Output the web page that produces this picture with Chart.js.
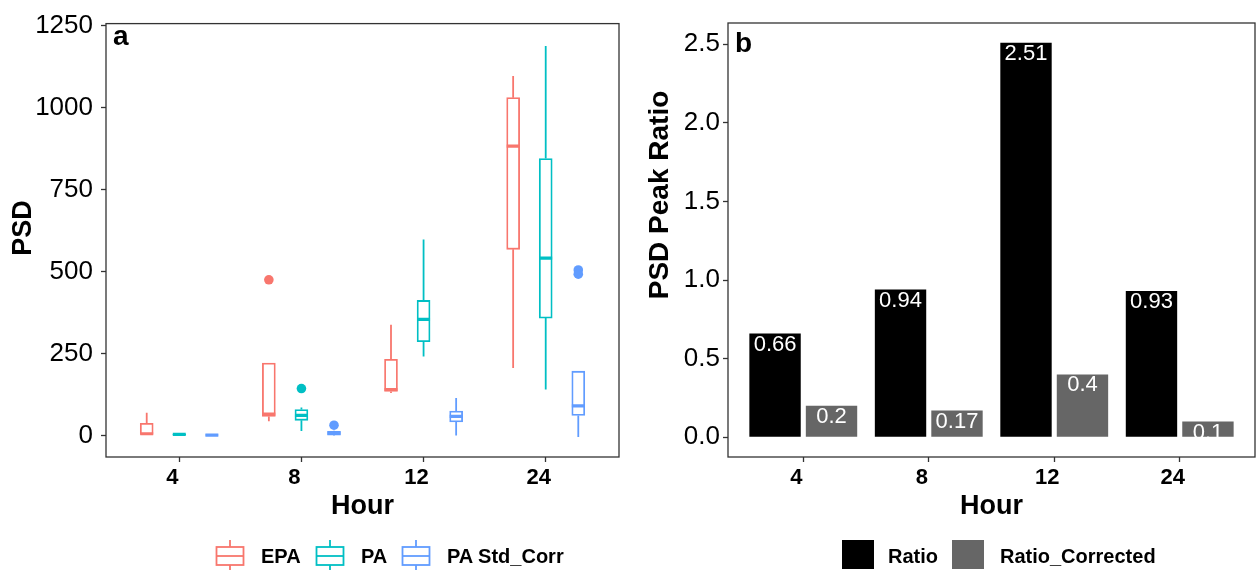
<!DOCTYPE html>
<html>
<head>
<meta charset="utf-8">
<script src="https://cdn.jsdelivr.net/npm/chart.js@4.4.1/dist/chart.umd.min.js"></script>
<style>
  body { margin: 0; background: #fff; }
  #wrap { position: relative; width: 1256px; height: 570px; overflow: hidden; background: #fff;
          font-family: "Liberation Sans", Arial, sans-serif; }
  canvas { position: absolute; top: 0; }
  .lg { position: absolute; top: 544px; font-weight: bold; font-size: 20px; line-height: 24px; color: #000; white-space: nowrap; }
  .key { position: absolute; }
</style>
</head>
<body>
<div id="wrap">
  <canvas id="psd" width="628" height="570" style="left:0"></canvas>
  <canvas id="ratio" width="628" height="570" style="left:628px"></canvas>
</div>
<script>
// ---- panel a: PSD boxplots ----
const hours = ['4', '8', '12', '24'];
const groups = ['EPA', 'PA', 'PA Std_Corr'];
const groupColors = ['#F8766D', '#00BFC4', '#619CFF'];
// [lower whisker, Q1, median, Q3, upper whisker] for each hour
const epaStats = [[1, 3, 5, 37, 69], [43, 58, 65, 221, 221], [129, 134, 140, 232, 338], [206, 568, 883, 1031, 1097]];
const paStats = [[2, 2.5, 3, 3.5, 4], [13, 46, 61, 79, 85], [241, 286, 354, 412, 598], [140, 358, 541, 845, 1189]];
const stdStats = [[0, 0.5, 1, 1.5, 2], [0, 1, 7, 12, 14], [0, 41, 58, 74, 114], [-5, 61, 90, 196, 196]];
const epaOutliers = [[], [475], [], []];
const paOutliers = [[], [143], [], []];
const stdOutliers = [[], [31], [], [505, 492]];
const psdTicks = [0, 250, 500, 750, 1000, 1250];

// ---- panel b: peak ratios ----
const ratio = [0.66, 0.94, 2.51, 0.93];
const ratioCorrected = [0.2, 0.17, 0.4, 0.1];
const ratioTicks = [0, 0.5, 1, 1.5, 2, 2.5];

Chart.defaults.font.family = '"Liberation Sans", Arial, sans-serif';
const FONT = '"Liberation Sans", Arial, sans-serif';

const dodge = [-0.8 / 3, 0, 0.8 / 3];
const halfBox = 0.053;

function boxDatasets(stats, outliers, g) {
    const color = groupColors[g];
    const boxes = [], whiskers = [], medians = [], points = [];
    stats.forEach((s, i) => {
        const x = i + 1 + dodge[g];
        boxes.push({x: x, y: [s[1], s[3]]});
        whiskers.push({x: x, y: s[0]}, {x: x, y: s[1]}, {x: x, y: null},
                      {x: x, y: s[3]}, {x: x, y: s[4]}, {x: x, y: null});
        medians.push({x: x - halfBox, y: s[2]}, {x: x + halfBox, y: s[2]}, {x: x, y: null});
        outliers[i].forEach(v => points.push({x: x, y: v}));
    });
    return [
        {type: 'bar', label: groups[g], data: boxes, backgroundColor: '#fff', borderColor: color,
         borderWidth: 1.8, borderSkipped: false, barThickness: 13, grouped: false, order: 3},
        {type: 'line', data: whiskers, borderColor: color, borderWidth: 1.8, pointRadius: 0, spanGaps: false, order: 2},
        {type: 'line', data: medians, borderColor: color, borderWidth: 3.2, pointRadius: 0, spanGaps: false, order: 1},
        {type: 'line', data: points, showLine: false, pointRadius: 4.8, pointBackgroundColor: color,
         pointBorderWidth: 0, order: 0}
    ];
}

// border, panel tag and rotated y title
const frame = {
    id: 'frame',
    afterDraw(chart, args, opts) {
        const {ctx, chartArea: a} = chart;
        ctx.save();
        ctx.strokeStyle = '#333';
        ctx.lineWidth = 1.3;
        ctx.strokeRect(a.left, a.top, a.right - a.left, a.bottom - a.top);
        ctx.fillStyle = '#000';
        ctx.font = 'bold 28px ' + FONT;
        ctx.textAlign = 'left';
        ctx.textBaseline = 'alphabetic';
        ctx.fillText(opts.tag, opts.tagX, opts.tagY);
        ctx.font = 'bold ' + opts.titleSize + 'px ' + FONT;
        ctx.translate(opts.titleX, opts.titleY);
        ctx.rotate(-Math.PI / 2);
        ctx.textAlign = 'center';
        ctx.textBaseline = 'middle';
        ctx.fillText(opts.title, 0, 0);
        ctx.restore();
    }
};

function xScale(height) {
    return {
        type: 'linear', min: 0.4, max: 4.6, offset: false,
        afterBuildTicks: s => { s.ticks = hours.map((h, i) => ({value: i + 1})); },
        ticks: {callback: (v, i) => hours[i], font: {size: 22, weight: 'bold'}, color: '#000',
                padding: 3, maxRotation: 0, autoSkip: false, labelOffset: -7},
        grid: {drawOnChartArea: false, offset: false, tickLength: 5, tickColor: '#333', tickWidth: 1.3},
        border: {display: false},
        title: {display: true, text: 'Hour', font: {size: 27, weight: 'bold'}, color: '#000',
                padding: {top: 0, bottom: 47}},
        afterFit: s => { s.height = height; }
    };
}

function yScale(min, max, ticks, width, padding, fmt) {
    return {
        min: min, max: max,
        afterBuildTicks: s => { s.ticks = ticks.map(v => ({value: v})); },
        ticks: {font: {size: 26}, color: '#000', padding: padding, callback: fmt},
        grid: {drawOnChartArea: false, tickLength: 5, tickColor: '#333', tickWidth: 1.3},
        border: {display: false},
        afterFit: s => { s.width = width; }
    };
}

new Chart(document.getElementById('psd'), {
    type: 'bar',
    data: {
        datasets: [].concat(
            boxDatasets(epaStats, epaOutliers, 0),
            boxDatasets(paStats, paOutliers, 1),
            boxDatasets(stdStats, stdOutliers, 2))
    },
    options: {
        responsive: false, animation: false, devicePixelRatio: 1,
        layout: {padding: {top: 23, right: 9, left: 0, bottom: 0}},
        plugins: {
            legend: {display: false}, tooltip: {enabled: false},
            frame: {tag: 'a', tagX: 113, tagY: 44.5, title: 'PSD', titleSize: 27, titleX: 24, titleY: 228}
        },
        scales: {
            x: xScale(113),
            y: yScale(-66, 1257, psdTicks, 106, 8, v => String(v))
        }
    },
    plugins: [frame]
});

// white value labels at the top of each bar
const barLabels = {
    id: 'barLabels',
    afterDatasetsDraw(chart) {
        const ctx = chart.ctx;
        ctx.save();
        ctx.font = '22px ' + FONT;
        ctx.fillStyle = '#fff';
        ctx.textAlign = 'center';
        ctx.textBaseline = 'top';
        chart.data.datasets.forEach((ds, di) => {
            chart.getDatasetMeta(di).data.forEach((bar, i) => {
                ctx.fillText(String(ds.data[i].y), bar.x, bar.y);
            });
        });
        ctx.restore();
    }
};

new Chart(document.getElementById('ratio'), {
    type: 'bar',
    data: {
        datasets: [
            {label: 'Ratio', data: ratio.map((v, i) => ({x: i + 1, y: v})), backgroundColor: '#000000'},
            {label: 'Ratio_Corrected', data: ratioCorrected.map((v, i) => ({x: i + 1, y: v})), backgroundColor: '#666666'}
        ]
    },
    options: {
        responsive: false, animation: false, devicePixelRatio: 1,
        layout: {padding: {top: 23, right: 1, left: 0, bottom: 0}},
        datasets: {bar: {categoryPercentage: 0.9, barPercentage: 0.91, borderWidth: 0}},
        plugins: {
            legend: {display: false}, tooltip: {enabled: false},
            frame: {tag: 'b', tagX: 107, tagY: 52, title: 'PSD Peak Ratio', titleSize: 28, titleX: 32, titleY: 195}
        },
        scales: {
            x: xScale(113),
            y: yScale(-0.1255, 2.6355, ratioTicks, 100, 3, v => v.toFixed(1))
        }
    },
    plugins: [frame, barLabels]
});

// legends
const wrap = document.getElementById('wrap');
const keyX = [215, 315, 401], textX = [261, 361, 447];
groups.forEach((g, i) => {
    const c = groupColors[i];
    wrap.insertAdjacentHTML('beforeend',
        `<svg class="key" style="left:${keyX[i]}px;top:540px" width="30" height="30">
           <g stroke="${c}" stroke-width="1.8" fill="none">
             <line x1="15" y1="0" x2="15" y2="7"/>
             <rect x="1.5" y="7" width="27" height="18" fill="#fff"/>
             <line x1="1.5" y1="16" x2="28.5" y2="16"/>
             <line x1="15" y1="25" x2="15" y2="30"/>
           </g></svg>
         <div class="lg" style="left:${textX[i]}px">${g}</div>`);
});
const barNames = ['Ratio', 'Ratio_Corrected'], barColors = ['#000000', '#666666'];
const sqX = [842, 952], sqText = [888, 1000];
barNames.forEach((n, i) => {
    wrap.insertAdjacentHTML('beforeend',
        `<div class="key" style="left:${sqX[i]}px;top:540px;width:32px;height:29px;background:${barColors[i]}"></div>
         <div class="lg" style="left:${sqText[i]}px">${n}</div>`);
});
</script>
</body>
</html>
